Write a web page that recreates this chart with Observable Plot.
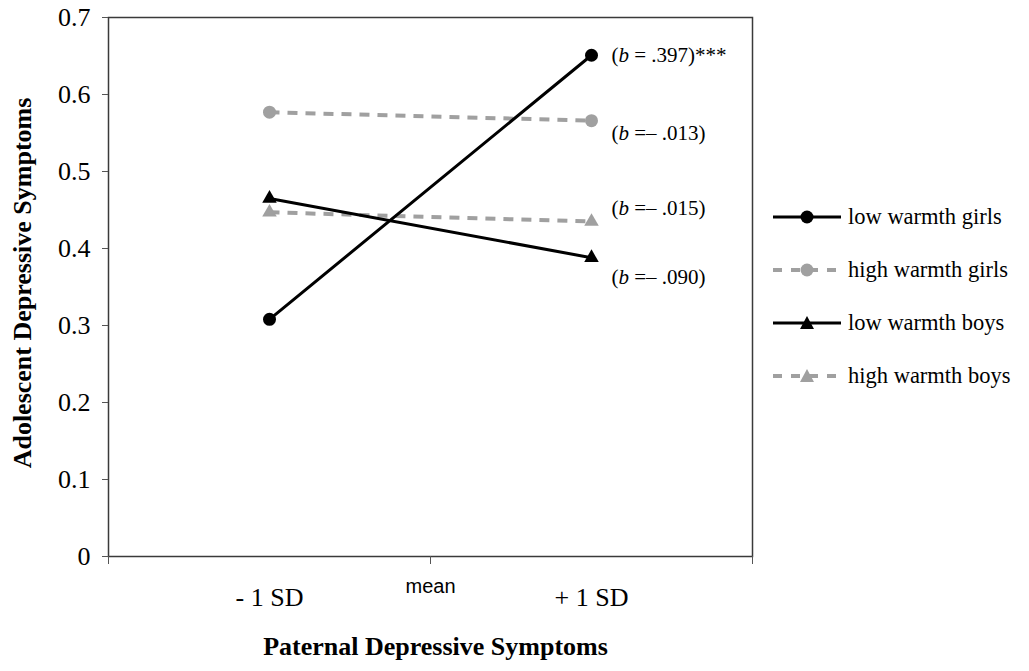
<!DOCTYPE html>
<html>
<head>
<meta charset="utf-8">
<script src="https://cdn.jsdelivr.net/npm/d3@7"></script>
<script src="https://cdn.jsdelivr.net/npm/@observablehq/plot@0.6"></script>
<style>
  body { margin: 0; background: #fff; }
  #wrap { position: relative; width: 1029px; height: 671px; }
  #legend { position: absolute; left: 0; top: 0; }
</style>
</head>
<body>
<div id="wrap"></div>
<script>
// ---- data ----
const xTickLabels = ["- 1 SD", "mean", "+ 1 SD"];
const series = ["low warmth girls", "high warmth girls", "low warmth boys", "high warmth boys"];
const atMinus1SD = [0.308, 0.577, 0.465, 0.447];
const atPlus1SD  = [0.651, 0.566, 0.388, 0.435];
const slopeText  = ["= .397)***", "=– .013)", "=– .090)", "=– .015)"];
const yTicks = [0, 0.1, 0.2, 0.3, 0.4, 0.5, 0.6, 0.7];

// ---- styles ----
const colors = ["#000000", "#a0a0a0", "#000000", "#a0a0a0"];
const symbols = ["circle", "circle", "triangle", "triangle"];
const dashed = [false, true, false, true];
const labelDy = [0, 13, 20, -13];
const serif = "'Liberation Serif', 'Times New Roman', serif";

const rows = [];
series.forEach((s, i) => {
  rows.push({s, i, x: 1, y: atMinus1SD[i]});
  rows.push({s, i, x: 3, y: atPlus1SD[i]});
});
const solidRows = rows.filter(d => !dashed[d.i]);
const dashRows = rows.filter(d => dashed[d.i]);
const circleRows = rows.filter(d => symbols[d.i] === "circle");
const triRows = rows.filter(d => symbols[d.i] === "triangle");
const ends = series.map((s, i) => ({s, i, y: atPlus1SD[i]}));

const chart = Plot.plot({
  width: 1029,
  height: 671,
  marginLeft: 108,
  marginRight: 277,
  marginTop: 17,
  marginBottom: 115,
  style: {fontFamily: serif, background: "#fff", color: "#000"},
  x: {domain: [0, 4], axis: null},
  y: {domain: [0, 0.7], axis: null},
  marks: [
    Plot.frame({stroke: "#3a3a3a", strokeWidth: 1.5}),
    Plot.axisY({ticks: yTicks, tickFormat: d => d === 0 ? "0" : d3.format(".1f")(d), tickSize: 6, tickPadding: 12, fontSize: 26, fontFamily: serif, stroke: "#555", label: null}),
    Plot.axisX({ticks: [0, 2, 4], tickFormat: () => "", tickSize: 8, stroke: "#555", label: null}),
    // x category labels
    Plot.text([xTickLabels[0], xTickLabels[2]], {x: (d, i) => i * 2 + 1, y: 0, dy: 41, fontSize: 26, fontFamily: serif}),
    Plot.text([xTickLabels[1]], {x: 2, y: 0, dy: 30, fontSize: 20, fontFamily: "'Liberation Sans', Arial, sans-serif"}),
    // axis titles
    Plot.text(["Paternal Depressive Symptoms"], {frameAnchor: "bottom", dx: 5, dy: 98, fontSize: 26, fontWeight: "bold", fontFamily: serif}),
    Plot.text(["Adolescent Depressive Symptoms"], {frameAnchor: "left", textAnchor: "middle", dx: -86, dy: -4, rotate: -90, fontSize: 26, fontWeight: "bold", fontFamily: serif}),
    // lines
    Plot.line(dashRows, {x: "x", y: "y", z: "s", stroke: d => colors[d.i], strokeWidth: 4, strokeDasharray: "10,8", strokeLinecap: "butt"}),
    Plot.line(solidRows, {x: "x", y: "y", z: "s", stroke: d => colors[d.i], strokeWidth: 3}),
    Plot.dot(circleRows, {x: "x", y: "y", fill: d => colors[d.i], stroke: null, symbol: "circle", r: 6.5}),
    Plot.dot(triRows, {x: "x", y: "y", fill: d => colors[d.i], stroke: null, symbol: "triangle", r: 5.4}),
    // slope labels
    Plot.text(ends, {x: 3, y: "y", text: d => "(b " + slopeText[d.i], dx: 20, textAnchor: "start", fontSize: 21, fontFamily: serif, className: "slope"})
  ]
});
document.getElementById("wrap").appendChild(chart);

// apply per-series vertical offsets and italic b on slope labels
d3.select(chart).selectAll("g.slope text").each(function(idx) {
  const t = d3.select(this);
  const cur = +t.attr("y");
  if (!isNaN(cur)) t.attr("y", cur + labelDy[idx]);
  else {
    const tr = t.attr("transform");
    t.attr("dy", null);
    t.attr("transform", tr + ` translate(0,${labelDy[idx]})`);
  }
  t.text(null);
  t.append("tspan").text("(");
  t.append("tspan").attr("font-style", "italic").text("b");
  t.append("tspan").text(" " + slopeText[idx]);
});

// legend
const leg = d3.select("#wrap").append("svg").attr("id", "legend").attr("width", 1029).attr("height", 671);
series.forEach((s, i) => {
  const g = leg.append("g").attr("transform", `translate(773,${217 + i * 53})`);
  g.append("line").attr("x1", 0).attr("x2", 68).attr("y1", 0).attr("y2", 0)
    .attr("stroke", colors[i]).attr("stroke-width", dashed[i] ? 4 : 3)
    .attr("stroke-dasharray", dashed[i] ? "9,9" : null);
  if (symbols[i] === "circle") {
    g.append("circle").attr("cx", 34).attr("cy", 0).attr("r", 6.5).attr("fill", colors[i]);
  } else {
    g.append("path").attr("d", "M34,-7L41,6L27,6Z").attr("fill", colors[i]);
  }
  g.append("text").attr("x", 75).attr("y", 0).attr("dy", "0.32em")
    .attr("font-family", serif).attr("font-size", 22.5).text(s);
});
</script>
</body>
</html>
